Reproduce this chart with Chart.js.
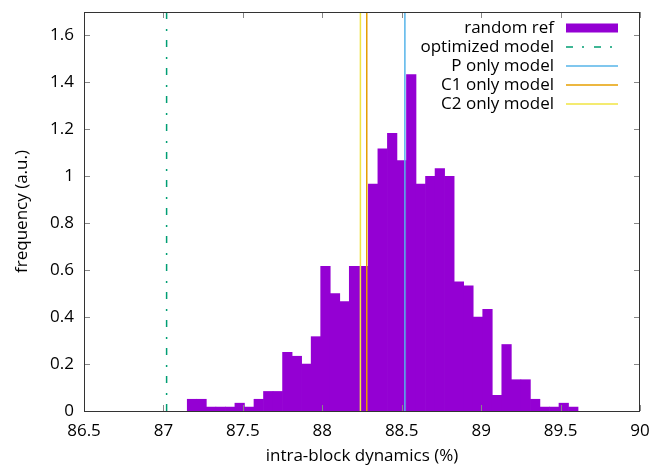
<!DOCTYPE html>
<html><head><meta charset="utf-8">
<script src="https://cdn.jsdelivr.net/npm/chart.js@4"></script>
<style>html,body{margin:0;padding:0;background:#fff}canvas{display:block}</style>
</head><body>
<canvas id="c" width="654" height="468"></canvas>
<script>
// histogram bin centres (bin width 0.06) and frequencies
const binCenters = [87.18, 87.24, 87.30, 87.36, 87.42, 87.48, 87.54, 87.60, 87.66, 87.72,
  87.78, 87.84, 87.90, 87.96, 88.02, 88.08, 88.14, 88.20, 88.26, 88.32,
  88.38, 88.44, 88.50, 88.56, 88.62, 88.68, 88.74, 88.80, 88.86, 88.92,
  88.98, 89.04, 89.10, 89.16, 89.22, 89.28, 89.34, 89.40, 89.46, 89.52, 89.58];
const frequencies = [0.05, 0.05, 0.0167, 0.0167, 0.0167, 0.0333, 0.0167, 0.05, 0.0833, 0.0833,
  0.25, 0.2333, 0.2, 0.3167, 0.6167, 0.5, 0.4667, 0.6167, 0.6167, 0.9667,
  1.1167, 1.1833, 1.0667, 1.4333, 0.9667, 1.0, 1.0333, 1.0, 0.55, 0.5333,
  0.4, 0.4333, 0.0667, 0.2833, 0.1333, 0.1333, 0.05, 0.0167, 0.0167, 0.0333, 0.0167];
const histName = 'random ref';
const modelNames = ['optimized model', 'P only model', 'C1 only model', 'C2 only model'];
const modelValues = [87.02, 88.52, 88.28, 88.24];
const xTicks = [86.5, 87, 87.5, 88, 88.5, 89, 89.5, 90];
const yTicks = [0, 0.2, 0.4, 0.6, 0.8, 1.0, 1.2, 1.4, 1.6];
const xRange = [86.5, 90];
const yRange = [0, 1.7];

const histColor = '#9400d3';
const modelColors = ['#009e73', '#56b4e9', '#e69f00', '#f0e442'];
const modelDashes = [[7, 9, 2, 10], [], [], []];

Chart.defaults.font.family = "'Open Sans', sans-serif";
Chart.defaults.font.size = 17;
Chart.defaults.color = '#000';

const datasets = [{
  type: 'bar',
  label: histName,
  data: binCenters.map((x, i) => ({x: x, y: frequencies[i]})),
  backgroundColor: histColor,
  borderWidth: 0,
  barPercentage: 1.0,
  categoryPercentage: 1.0,
  order: 10
}];
modelNames.forEach((n, i) => {
  datasets.push({
    type: 'line',
    label: n,
    data: [{x: modelValues[i], y: yRange[0]}, {x: modelValues[i], y: yRange[1]}],
    borderColor: modelColors[i],
    backgroundColor: modelColors[i],
    borderWidth: 1.5,
    borderDash: modelDashes[i],
    pointRadius: 0,
    fill: false,
    order: i
  });
});

const framePlugin = {
  id: 'frame',
  afterDraw(chart) {
    const {ctx, chartArea: a, scales} = chart;
    ctx.save();
    // inward ticks on all four sides
    ctx.strokeStyle = '#888';
    ctx.lineWidth = 1;
    const tl = 6;
    xTicks.forEach(v => {
      const px = Math.round(scales.x.getPixelForValue(v)) + 0.5;
      ctx.beginPath();
      ctx.moveTo(px, a.bottom); ctx.lineTo(px, a.bottom - tl);
      ctx.moveTo(px, a.top); ctx.lineTo(px, a.top + tl);
      ctx.stroke();
    });
    yTicks.forEach(v => {
      const py = Math.round(scales.y.getPixelForValue(v)) + 0.5;
      ctx.beginPath();
      ctx.moveTo(a.left, py); ctx.lineTo(a.left + tl, py);
      ctx.moveTo(a.right, py); ctx.lineTo(a.right - tl, py);
      ctx.stroke();
    });
    // border box
    ctx.strokeStyle = '#333';
    ctx.lineWidth = 1;
    ctx.strokeRect(Math.round(a.left) + 0.5, Math.round(a.top) + 0.5,
      Math.round(a.right - a.left) - 1, Math.round(a.bottom - a.top));
    // key (gnuplot style: right-aligned text, sample on the right)
    ctx.font = "17px 'Open Sans', sans-serif";
    ctx.textAlign = 'right';
    ctx.textBaseline = 'middle';
    const textRight = a.right - 86;
    const s0 = a.right - 74, s1 = a.right - 22;
    chart.data.datasets.forEach((ds, i) => {
      const y = a.top + 16 + i * 19;
      ctx.fillStyle = '#000';
      ctx.fillText(ds.label, textRight, y);
      if (ds.type === 'bar') {
        ctx.fillStyle = ds.backgroundColor;
        ctx.fillRect(s0, y - 4.5, s1 - s0, 9);
      } else {
        ctx.strokeStyle = ds.borderColor;
        ctx.lineWidth = ds.borderWidth;
        ctx.setLineDash(ds.borderDash || []);
        ctx.beginPath();
        ctx.moveTo(s0, y); ctx.lineTo(s1, y);
        ctx.stroke();
        ctx.setLineDash([]);
      }
    });
    ctx.restore();
  }
};

const fmt = v => String(+Number(v).toFixed(2));

new Chart(document.getElementById('c'), {
  type: 'bar',
  data: {datasets},
  options: {
    responsive: false,
    animation: false,
    devicePixelRatio: 1,
    layout: {padding: {top: 12, right: 14, left: 0, bottom: 0}},
    plugins: {legend: {display: false}, tooltip: {enabled: false}},
    scales: {
      x: {
        type: 'linear',
        min: xRange[0], max: xRange[1],
        offset: false,
        grid: {display: false, drawTicks: false, offset: false},
        border: {display: false},
        afterBuildTicks: s => { s.ticks = xTicks.map(v => ({value: v})); },
        afterFit: s => { s.height = 57; s.paddingLeft = 0; s.paddingRight = 0; },
        ticks: {padding: 10, maxRotation: 0, autoSkip: false, callback: fmt},
        title: {display: true, text: 'intra-block dynamics (%)', padding: {top: 0, bottom: 2}}
      },
      y: {
        type: 'linear',
        min: yRange[0], max: yRange[1],
        grid: {display: false, drawTicks: false},
        border: {display: false},
        afterBuildTicks: s => { s.ticks = yTicks.map(v => ({value: v})); },
        afterFit: s => { s.width = 84; s.paddingTop = 0; s.paddingBottom = 0; },
        ticks: {padding: 10, autoSkip: false, callback: fmt},
        title: {display: true, text: 'frequency (a.u.)', padding: {top: 12, bottom: 0}}
      }
    }
  },
  plugins: [framePlugin]
});
</script>
</body></html>
